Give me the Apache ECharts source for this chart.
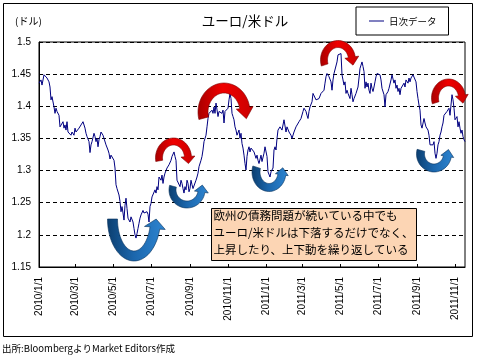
<!DOCTYPE html>
<html><head><meta charset="utf-8">
<script src="https://cdn.jsdelivr.net/npm/echarts@6/dist/echarts.min.js"></script>
<style>html,body{margin:0;padding:0;background:#fff}#c{width:477px;height:358px}</style>
</head><body><div id="c"></div>
<script>
// ---- data (EUR/USD daily, sampled evenly along the time axis) ----
const startDate = '2010/1/1';
const daysPerSample = 669 / 416;   // 2010/1/1 -> 2011/11/1 spans 416 samples
const tickLabels = ['2010/1/1','2010/3/1','2010/5/1','2010/7/1','2010/9/1','2010/11/1',
                    '2011/1/1','2011/3/1','2011/5/1','2011/7/1','2011/9/1','2011/11/1'];
const yTicks = { min: 1.15, max: 1.5, step: 0.05 };
const seriesName = '日次データ';

const ratesPart1 = [
1.436,1.438,1.441,1.433,1.441,1.449,1.451,1.450,1.444,1.441,
1.438,1.430,1.410,1.415,1.412,1.399,1.389,1.397,1.392,1.394,
1.386,1.368,1.371,1.366,1.376,1.366,1.371,1.363,1.376,1.360,
1.358,1.363,1.355,1.360,1.363,1.355,1.366,1.360,1.363,1.360,
1.366,1.368,1.371,1.368,1.376,1.374,1.366,1.358,1.353,1.355,
1.345,1.328,1.340,1.345,1.348,1.358,1.353,1.345,1.350,1.337,
1.348,1.353,1.360,1.363,1.355,1.350,1.350,1.340,1.337,1.332,
1.327,1.318,1.324,1.327,1.322,1.316,1.304,1.278,1.272,1.275,
1.262,1.252,1.236,1.244,1.234,1.223,1.246,1.257,1.241,1.226,
1.228,1.220,1.228,1.226,1.220,1.210,1.200,1.195,1.202,1.210,
1.218,1.226,1.231,1.228,1.238,1.234,1.236,1.231,1.236];
const ratesPart2 = [
1.232,1.220,1.244,1.249,1.259,1.257,1.262,1.270,1.265,1.275,
1.270,1.290,1.293,1.285,1.293,1.280,1.290,1.296,1.298,1.304,
1.301,1.309,1.311,1.316,1.322,1.324,1.329,1.322,1.316,1.285,
1.283,1.288,1.275,1.285,1.280,1.272,1.265,1.275,1.270,1.285,
1.280,1.267,1.272,1.285,1.278,1.272,1.270,1.275,1.285,1.290,
1.296,1.306,1.306,1.316,1.322,1.332,1.345,1.345,1.355,1.368,
1.381,1.389,1.386,1.392,1.394,1.389,1.399,1.389,1.405,1.407,
1.384,1.392,1.389,1.394,1.389,1.394,1.374,1.392,1.394,1.389,
1.397,1.410,1.420,1.412,1.389,1.384,1.379,1.368,1.363,1.355,
1.358,1.363,1.350,1.358,1.342,1.335,1.324,1.311,1.301,1.322,
1.332,1.337,1.329,1.335,1.337];
const ratesPart3 = [
1.335,1.329,1.324,1.319,1.324,1.316,1.311,1.314,1.324,1.314,
1.311,1.327,1.337,1.335,1.322,1.298,1.296,1.290,1.298,1.301,
1.304,1.332,1.337,1.332,1.350,1.363,1.363,1.368,1.371,1.363,
1.366,1.379,1.381,1.360,1.368,1.371,1.360,1.363,1.355,1.350,
1.353,1.360,1.363,1.368,1.371,1.366,1.376,1.376,1.381,1.384,
1.392,1.397,1.399,1.392,1.386,1.381,1.392,1.399,1.397,1.407,
1.420,1.423,1.418,1.410,1.410,1.409,1.412,1.415,1.420,1.423,
1.420,1.425,1.436,1.446,1.451,1.449,1.446,1.449,1.438,1.425,
1.441,1.451,1.451,1.454,1.469,1.480,1.482,1.482,1.482,1.449,
1.441,1.433,1.438,1.420,1.425,1.420,1.423,1.412,1.428,1.418,
1.407,1.412,1.410,1.420,1.423,1.430];
const ratesPart4 = [
1.444,1.459,1.464,1.469,1.462,1.454,1.428,1.438,1.430,1.436,
1.425,1.420,1.436,1.428,1.423,1.430,1.438,1.446,1.451,1.454,
1.451,1.449,1.441,1.428,1.425,1.418,1.399,1.418,1.415,1.423,
1.428,1.430,1.441,1.449,1.449,1.436,1.441,1.428,1.433,1.423,
1.428,1.418,1.428,1.425,1.430,1.436,1.430,1.441,1.438,1.436,
1.444,1.438,1.444,1.441,1.449,1.451,1.449,1.438,1.423,1.412,
1.402,1.394,1.371,1.366,1.368,1.381,1.374,1.368,1.371,1.363,
1.355,1.340,1.337,1.342,1.340,1.345,1.327,1.319,1.327,1.340,
1.345,1.355,1.360,1.368,1.374,1.386,1.384,1.389,1.392,1.389,
1.397,1.386,1.402,1.418,1.410,1.397,1.379,1.381,1.384,1.368,
1.376,1.366,1.358,1.363,1.353,1.348,1.345];

// ---- build ----
const DAY = 86400000;
const rates = [].concat(ratesPart1, ratesPart2, ratesPart3, ratesPart4);
const t0 = new Date(startDate).getTime();
// x = days elapsed since startDate
const seriesData = rates.map((v, i) => [i * daysPerSample, v]);
const tickDays = tickLabels.map(s => Math.round((new Date(s).getTime() - t0) / DAY));
const labelFor = v => { const k = tickDays.indexOf(Math.round(v)); return k >= 0 ? tickLabels[k] : ''; };

function arrowPoints(a) {
  const rad = x => x * Math.PI / 180;
  const pt = (ang, off) => [a.cx + (a.rx + off) * Math.cos(rad(ang)), a.cy + (a.ry + off) * Math.sin(rad(ang))];
  const N = 30, outer = [], inner = [];
  for (let i = 0; i <= N; i++) {
    const ang = a.a0 + (a.a1 - a.a0) * i / N;
    outer.push(pt(ang, a.t / 2)); inner.push(pt(ang, -a.t / 2));
  }
  const th = rad(a.a1), dir = Math.sign(a.a1 - a.a0);
  let tx = -a.rx * Math.sin(th) * dir, ty = a.ry * Math.cos(th) * dir;
  let L = Math.hypot(tx, ty); tx /= L; ty /= L;
  let nx = Math.cos(th) / a.rx, ny = Math.sin(th) / a.ry;
  L = Math.hypot(nx, ny); nx /= L; ny /= L;
  const c = pt(a.a1, 0);
  const pO = [c[0] + nx * a.hw / 2, c[1] + ny * a.hw / 2];
  const pI = [c[0] - nx * a.hw / 2, c[1] - ny * a.hw / 2];
  const tip = [c[0] + tx * a.head, c[1] + ty * a.head];
  return outer.concat([pO, tip, pI], inner.slice().reverse());
}
const arrowDefs = [
  {kind:'blue', cx:134, cy:219, rx:21.5, ry:37, t:10, a0:180, a1:14, head:9, hw:21},
  {kind:'red', cx:173.5, cy:158, rx:14.5, ry:16.5, t:7, a0:-190, a1:-5, head:7, hw:14},
  {kind:'blue', cx:187, cy:190, rx:14.5, ry:14.5, t:7, a0:195, a1:8, head:7, hw:14},
  {kind:'red', cx:224, cy:112, rx:21, ry:24, t:10, a0:-195, a1:-10, head:11, hw:17},
  {kind:'blue', cx:269, cy:172, rx:13, ry:15.5, t:8, a0:198, a1:10, head:7, hw:13},
  {kind:'red', cx:338, cy:60, rx:14, ry:16, t:7, a0:-198, a1:-10, head:8, hw:14},
  {kind:'red', cx:448.5, cy:98, rx:13.5, ry:15.5, t:7, a0:-198, a1:-10, head:8, hw:13},
  {kind:'blue', cx:434, cy:154, rx:13.5, ry:14, t:8, a0:195, a1:10, head:7, hw:13}
];
const redFill = () => new echarts.graphic.LinearGradient(0, 0, 1, 0, [
  {offset:0, color:'#A80000'}, {offset:0.45, color:'#F00000'}, {offset:1, color:'#C80000'}]);
const blueFill = () => new echarts.graphic.LinearGradient(0, 0, 1, 0, [
  {offset:0, color:'#0C3F70'}, {offset:0.45, color:'#1B66AC'}, {offset:1, color:'#2E86D2'}]);
const arrowGraphics = arrowDefs.map(a => ({
  type:'polygon', z:100, silent:true,
  shape:{points: arrowPoints(a)},
  style:{fill: a.kind === 'red' ? redFill() : blueFill(),
         stroke: a.kind === 'red' ? '#7A0000' : '#08305A', lineWidth:0.6}
}));

const jp = '"Noto Sans CJK JP", sans-serif';
const chart = echarts.init(document.getElementById('c'), null, {renderer:'canvas'});
chart.setOption({
  animation:false,
  backgroundColor:'#fff',
  grid:{left:39, top:42, right:12, bottom:91, show:true, borderColor:'#000', borderWidth:1},
  legend:{data:[seriesName], left:356, top:7, padding:[7,12,7,13], borderColor:'#000', borderWidth:1,
    backgroundColor:'#fff', icon:'rect', itemWidth:15, itemHeight:1,
    itemStyle:{color:'#000080'},
    textStyle:{fontSize:9.5, fontFamily:jp, color:'#000', lineHeight:14}},
  xAxis:{type:'value', min:0, max:(rates.length - 1) * daysPerSample,
    axisLine:{lineStyle:{color:'#000', width:1}},
    axisTick:{show:true, inside:true, length:3, customValues:tickDays, lineStyle:{color:'#000'}},
    axisLabel:{customValues:tickDays, rotate:90, margin:10, formatter:labelFor, fontSize:10,
      color:'#000', fontFamily:'"Liberation Sans", Arial', hideOverlap:false},
    splitLine:{show:false}},
  yAxis:{type:'value', min:yTicks.min, max:yTicks.max, interval:yTicks.step,
    axisLine:{show:true, lineStyle:{color:'#000', width:1}},
    axisTick:{show:false},
    axisLabel:{margin:8, fontSize:10, color:'#000', fontFamily:'"Liberation Sans", Arial'},
    splitLine:{show:true, lineStyle:{color:'#000', type:[4,3], width:1}}},
  series:[{type:'line', name:seriesName, data:seriesData, symbol:'none', showSymbol:false,
    lineStyle:{color:'#000080', width:1}, itemStyle:{color:'#000080'}, z:2}],
  graphic:[
    {type:'rect', z:1, silent:true, shape:{x:3.5, y:3.5, width:469, height:333}, style:{fill:'none', stroke:'#000', lineWidth:1}},
    {type:'text', z:50, x:245, y:21, style:{text:'ユーロ/米ドル', fontSize:13.5, fontFamily:jp, fill:'#000', align:'center', verticalAlign:'middle'}},
    {type:'text', z:50, x:15, y:21, style:{text:'(ドル)', fontSize:10, fontFamily:jp, fill:'#000', align:'left', verticalAlign:'middle'}},
    {type:'text', z:50, x:2, y:348, style:{text:'出所:BloombergよりMarket Editors作成', fontSize:9.5, fontFamily:jp, fill:'#000', align:'left', verticalAlign:'middle'}},
    {type:'rect', z:90, silent:true, shape:{x:211.5, y:208.5, width:205, height:52}, style:{fill:'#FCD5B4', stroke:'#000', lineWidth:1}},
    {type:'text', z:91, x:213.5, y:207.5, style:{text:'欧州の債務問題が続いている中でも\nユーロ/米ドルは下落するだけでなく、\n上昇したり、上下動を繰り返している',
      fontSize:11.5, fontFamily:jp, fill:'#000', lineHeight:17, align:'left', verticalAlign:'top'}}
  ].concat(arrowGraphics)
});
</script></body></html>
